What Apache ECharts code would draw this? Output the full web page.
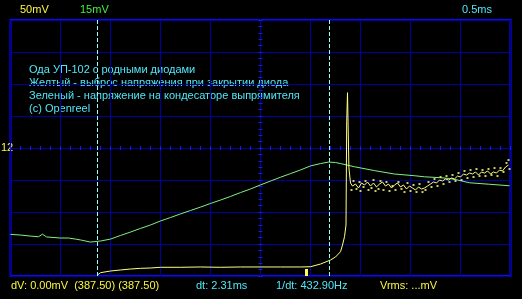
<!DOCTYPE html>
<html><head><meta charset="utf-8">
<script src="https://cdn.jsdelivr.net/npm/echarts@6/dist/echarts.min.js"></script>
<style>html,body{margin:0;padding:0;background:#000;}#c{width:522px;height:299px;}</style>
</head><body><div id="c"></div>
<script>
// Green trace (capacitor voltage), time in ms relative to screen centre, value in mV (15 mV/div)
const greenT = [-2.50,-2.40,-2.30,-2.22,-2.18,-2.14,-2.00,-1.92,-1.90,-1.85,-1.80,-1.70,-1.60,-1.50,-1.40,-1.30,-1.20,-1.10,-1.00,-0.90,-0.80,-0.70,-0.60,-0.50,-0.40,-0.30,-0.20,-0.10,0.00,0.10,0.20,0.30,0.40,0.50,0.60,0.68,0.75,0.80,0.94,1.14,1.34,1.54,1.64,1.79,1.89,1.97,2.09,2.29,2.49];
const greenV = [-40.5,-40.8,-41.3,-41.6,-40.4,-41.7,-42.2,-42.2,-41.3,-42.7,-43.1,-44.1,-43.6,-42.7,-41.0,-39.4,-37.7,-36.1,-34.2,-32.6,-30.9,-29.3,-27.7,-26.0,-24.4,-22.7,-20.9,-19.2,-17.3,-15.5,-13.7,-12.0,-10.3,-8.4,-7.3,-6.6,-6.8,-7.3,-8.8,-10.6,-12.2,-13.0,-13.5,-13.9,-14.3,-15.0,-16.3,-17.0,-17.7];
// Yellow trace (diode switch-off spike), value in mV (50 mV/div)
const yellowT = [-1.63,-1.62,-1.60,-1.50,-1.40,-1.30,-1.20,-1.10,-1.00,-0.80,-0.60,-0.40,-0.20,0.00,0.20,0.40,0.50,0.60,0.70,0.75,0.80,0.82,0.84,0.855,0.86,0.862,0.868,0.87,0.88,0.884,0.90,
 0.92,0.95,0.98,1.01,1.04,1.07,1.10,1.13,1.16,1.19,1.22,1.25,1.28,1.31,1.34,1.37,1.40,1.43,1.46,1.49,1.52,1.55,1.58,1.61,1.64,1.67,1.70,1.73,1.76,1.79,1.82,1.85,1.88,1.91,1.94,1.97,2.00,2.03,2.06,2.09,2.12,2.15,2.18,2.21,2.24,2.27,2.30,2.33,2.36,2.39,2.42,2.45,2.48];
const yellowV = [-198.4,-195.3,-194.8,-192.2,-190.6,-189.1,-188.0,-187.5,-186.4,-186.4,-185.9,-186.4,-185.9,-185.9,-185.9,-185.9,-185.5,-181.3,-175.0,-170.3,-162.0,-151.6,-138.6,-120.3,-120.0,41.0,41.0,86.4,86.4,-31.0,-54.7,
 -59.4,-56.3,-62.5,-54.7,-57.8,-53.1,-59.4,-54.7,-60.9,-56.3,-53.1,-59.4,-56.3,-62.5,-57.8,-54.7,-60.9,-57.8,-64.1,-59.4,-62.5,-65.6,-60.9,-64.1,-62.5,-59.4,-56.3,-53.1,-54.7,-50.0,-51.6,-48.4,-50.0,-46.9,-48.4,-43.8,-45.3,-40.6,-42.2,-39.1,-40.6,-37.5,-42.2,-37.5,-39.1,-35.9,-40.6,-37.5,-39.1,-34.4,-35.9,-29.7,-26.6];
// Scattered yellow samples (noise cloud after the spike)
const yellowDotT = [0.91,0.93,0.96,0.99,1.00,1.03,1.05,1.08,1.11,1.13,1.15,1.18,1.20,1.23,1.26,1.29,1.32,1.35,1.38,1.41,1.44,1.47,1.50,1.53,1.56,1.59,1.62,1.65,1.68,1.71,1.74,1.77,1.80,1.83,1.86,1.89,1.92,1.95,1.98,2.01,2.04,2.07,2.10,2.13,2.16,2.19,2.22,2.25,2.28,2.31,2.34,2.37,2.40,2.43,2.46,2.49,2.48];
const yellowDotV = [-65.6,-51.6,-64.1,-53.1,-67.2,-60.9,-51.6,-65.6,-62.5,-50.0,-67.2,-64.1,-51.6,-65.6,-53.1,-67.2,-59.4,-65.6,-53.1,-64.1,-68.8,-54.7,-67.2,-57.8,-68.8,-56.3,-68.8,-65.6,-53.1,-60.9,-48.4,-59.4,-45.3,-56.3,-43.8,-53.1,-42.2,-51.6,-39.1,-50.0,-35.9,-46.9,-34.4,-45.3,-32.8,-43.8,-34.4,-43.8,-32.8,-42.2,-31.3,-43.8,-31.3,-37.5,-23.4,-32.8,-18.8];
// Cursor positions (ms)
const cursors = [-1.625, 0.685];
// Texts
const noteLines = ['Ода УП-102 с родными диодами','Желтый - выброс напряжения при закрытии диода','Зеленый - напряжение на кондесаторе выпрямителя','(c) Openreel'];
const topLabels = ['50mV','15mV','0.5ms'];
const bottomLabels = ['dV: 0.00mV  (387.50) (387.50)','dt: 2.31ms','1/dt: 432.90Hz','Vrms: ...mV'];

const GRID='#0000a0', TICK='#1818f0', BORDER='#0a0aff', CYAN='#50e8f8', YEL='#f8f840', GRN='#40f040';
const FONT='"Liberation Sans", Arial, sans-serif';
const zip=(a,b)=>a.map((v,i)=>[v,b[i]]);
const chart=echarts.init(document.getElementById('c'),null,{renderer:'canvas'});
function xAx(pos){return {type:'value',min:-2.5,max:2.5,interval:0.5,position:pos,
  axisLine:{show:true,onZero:true,lineStyle:{color:GRID,width:1}},
  axisTick:{show:true,inside:true,length:2,lineStyle:{color:TICK}},
  minorTick:{show:true,splitNumber:5,length:2,lineStyle:{color:TICK}},
  axisLabel:{show:false},splitLine:{show:pos==='bottom',lineStyle:{color:GRID,width:1}}};}
function yAx(pos,mx,iv,split){return {type:'value',min:-mx,max:mx,interval:iv,position:pos,
  axisLine:{show:true,onZero:true,lineStyle:{color:GRID,width:1}},
  axisTick:{show:true,inside:true,length:2,lineStyle:{color:TICK}},
  minorTick:{show:true,splitNumber:5,length:2,lineStyle:{color:TICK}},
  axisLabel:{show:false},splitLine:{show:split,lineStyle:{color:GRID,width:1}}};}
const txt=(x,y,t,c)=>({type:'text',x:x,y:y,style:{text:t,fill:c,font:'11px '+FONT,textVerticalAlign:'middle'}});
const graphics=[
  txt(20,10,topLabels[0],YEL),txt(80,10,topLabels[1],GRN),txt(462,10,topLabels[2],CYAN),
  txt(1,148,'12',YEL),
  txt(11,286,bottomLabels[0],YEL),txt(196,286,bottomLabels[1],CYAN),txt(276,286,bottomLabels[2],CYAN),txt(380,286,bottomLabels[3],YEL),
  {type:'rect',x:305,y:269,shape:{width:3,height:7},style:{fill:'#ffff60'}}
];
noteLines.forEach((t,i)=>graphics.push(txt(29,70+13*i,t,CYAN)));

chart.setOption({
  animation:false,backgroundColor:'#000',
  grid:{left:10.5,top:20,width:500,height:256,show:true,borderColor:BORDER,borderWidth:2,backgroundColor:'transparent'},
  xAxis:[xAx('bottom'),xAx('top')],
  yAxis:[yAx('left',200,50,true),yAx('right',60,15,false)],
  graphic:graphics,
  series:[
    {type:'line',name:'green',xAxisIndex:0,yAxisIndex:1,data:zip(greenT,greenV),showSymbol:false,lineStyle:{color:'#80f080',width:1},z:3},
    {type:'line',name:'yellow',xAxisIndex:0,yAxisIndex:0,data:zip(yellowT,yellowV),showSymbol:false,lineStyle:{color:'#ffff80',width:1},z:4,
     markLine:{silent:true,symbol:['none','none'],label:{show:false},lineStyle:{color:'#90ffff',type:[4,2],width:1},data:cursors.map(c=>({xAxis:c}))}},
    {type:'scatter',name:'yellowDots',xAxisIndex:0,yAxisIndex:0,data:zip(yellowDotT,yellowDotV),symbol:'rect',symbolSize:2,itemStyle:{color:'#ffff80'},z:4}
  ]
});
</script></body></html>
